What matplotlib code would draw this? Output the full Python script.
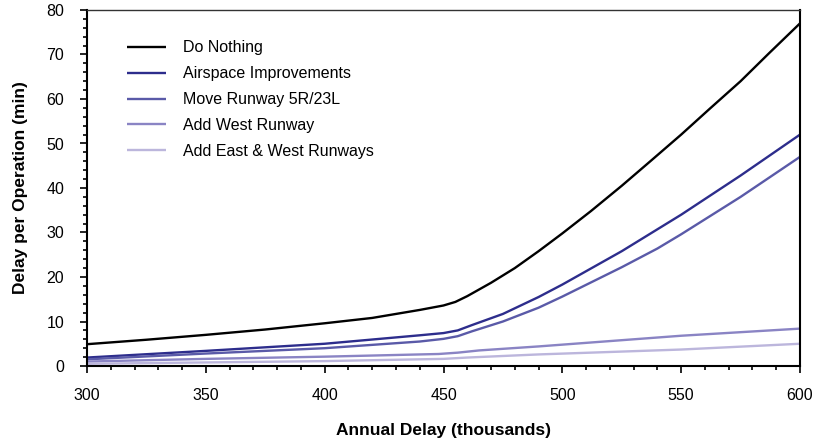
"""Delay per operation versus annual delay for the airfield alternatives."""

import matplotlib

matplotlib.use("Agg")
import matplotlib.pyplot as plt
from matplotlib.ticker import MultipleLocator

plt.rcParams["font.family"] = ["Liberation Sans", "DejaVu Sans"]

# annual delay (thousands) -> delay per operation (min)
do_nothing_x = [300, 325, 350, 375, 400, 420, 440, 450, 455, 460, 470, 480, 490,
                500, 512, 525, 537, 550, 562, 575, 587, 600]
do_nothing_y = [4.9, 5.9, 7.0, 8.2, 9.6, 10.8, 12.6, 13.6, 14.4, 15.7, 18.7, 22.0, 25.8,
                29.8, 34.8, 40.5, 46.0, 52.0, 57.8, 64.0, 70.3, 77.0]

airspace_x = [300, 350, 400, 440, 450, 456, 462, 475, 490, 500, 525, 550, 575, 600]
airspace_y = [1.9, 3.4, 5.0, 6.9, 7.4, 8.0, 9.2, 11.7, 15.5, 18.3, 25.8, 34.0, 42.8, 52.0]

move_rwy_x = [300, 350, 400, 440, 450, 456, 462, 475, 490, 500, 525, 540, 550, 575, 600]
move_rwy_y = [1.5, 2.8, 4.0, 5.5, 6.1, 6.7, 7.8, 10.0, 13.1, 15.6, 22.2, 26.4, 29.6, 38.0, 47.0]

west_x = [300, 350, 400, 448, 456, 465, 490, 525, 550, 600]
west_y = [1.0, 1.6, 2.1, 2.7, 3.0, 3.5, 4.4, 5.8, 6.8, 8.4]

east_west_x = [300, 400, 450, 460, 490, 550, 600]
east_west_y = [0.5, 1.1, 1.6, 1.9, 2.6, 3.7, 5.0]

series = [
    ("Do Nothing", do_nothing_x, do_nothing_y, "#000000"),
    ("Airspace Improvements", airspace_x, airspace_y, "#2d2d8c"),
    ("Move Runway 5R/23L", move_rwy_x, move_rwy_y, "#5a5aa8"),
    ("Add West Runway", west_x, west_y, "#8a84c4"),
    ("Add East & West Runways", east_west_x, east_west_y, "#bcb6dc"),
]

fig = plt.figure(figsize=(8.14, 4.44), dpi=100)
ax = fig.add_axes([87 / 814, (444 - 366) / 444, (800 - 87) / 814, (366 - 10) / 444])

for label, xs, ys, color in series:
    ax.plot(xs, ys, color=color, lw=1.7, label=label,
            solid_joinstyle="round", solid_capstyle="butt")

ax.set_xlim(300, 600)
ax.set_ylim(0, 80)
ax.xaxis.set_major_locator(MultipleLocator(50))
ax.xaxis.set_minor_locator(MultipleLocator(10))
ax.yaxis.set_major_locator(MultipleLocator(10))
ax.yaxis.set_minor_locator(MultipleLocator(2))
ax.tick_params(which="major", direction="out", length=5, width=1.2, labelsize=11.5)
ax.tick_params(which="minor", direction="out", length=3, width=1.2)
ax.tick_params(axis="x", pad=10.5)
ax.tick_params(axis="y", pad=11.5)

for side in ("left", "bottom", "right"):
    ax.spines[side].set_linewidth(1.5)
ax.spines["top"].set_linewidth(1.0)
ax.spines["top"].set_color("#333333")

ax.set_xlabel("Annual Delay (thousands)", fontsize=12.5, fontweight="bold", labelpad=15)
ax.set_ylabel("Delay per Operation (min)", fontsize=12.5, fontweight="bold", labelpad=13)

ax.legend(
    loc="upper left",
    bbox_to_anchor=(0.036, 0.955),
    frameon=False,
    fontsize=11.5,
    handlelength=2.45,
    handletextpad=1.05,
    labelspacing=0.68,
)

fig.savefig("out.png", dpi=100)
